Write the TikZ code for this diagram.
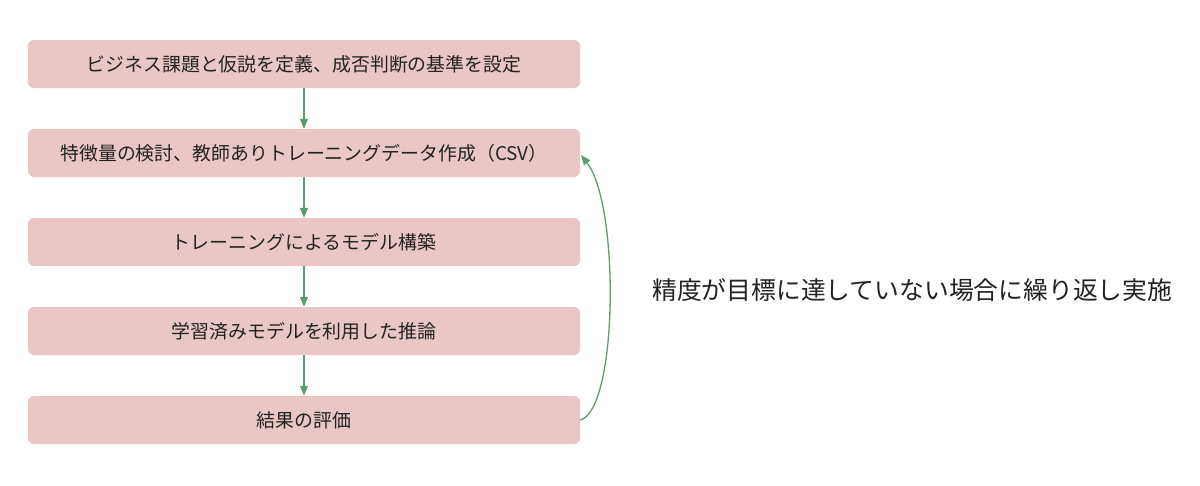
\documentclass[tikz,border=0pt]{standalone}
\usepackage{fontspec}
\setmainfont{Noto Sans CJK JP}
\usetikzlibrary{arrows.meta}
\definecolor{boxpink}{HTML}{EAC6C6}
\definecolor{arrgreen}{HTML}{5E9E6E}
\definecolor{txt}{HTML}{222222}
\tikzset{
  stepbox/.style={fill=boxpink, draw=none, rounded corners=6pt, minimum width=552pt, minimum height=48pt, inner sep=0pt, text=txt, font=\fontsize{18.9pt}{20pt}\selectfont},
  flow/.style={draw=arrgreen, line width=1.3pt, -{Triangle[length=10pt,width=8pt]}}
}
\begin{document}
\begin{tikzpicture}[x=1pt,y=-1pt]
\useasboundingbox (0,0) rectangle (1200,485);
\node[stepbox] (b1) at (304,64) {ビジネス課題と仮説を定義、成否判断の基準を設定};
\node[stepbox] (b2) at (304,153) {特徴量の検討、教師ありトレーニングデータ作成（CSV）};
\node[stepbox] (b3) at (304,242) {トレーニングによるモデル構築};
\node[stepbox] (b4) at (304,331) {学習済みモデルを利用した推論};
\node[stepbox] (b5) at (304,420) {結果の評価};
\draw[flow] (b1) -- (b2);
\draw[flow] (b2) -- (b3);
\draw[flow] (b3) -- (b4);
\draw[flow] (b4) -- (b5);
\coordinate (loopend) at (581,155);
\draw[flow] (b5.east) .. controls (618,410) and (620,205) .. (loopend);
\node[anchor=west, inner sep=0pt, text=txt, font=\fontsize{24.8pt}{26pt}\selectfont] (note) at (652,290) {精度が目標に達していない場合に繰り返し実施};
\end{tikzpicture}
\end{document}
